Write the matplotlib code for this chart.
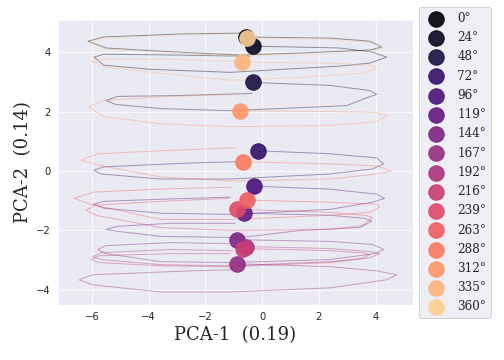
import numpy as np
import matplotlib
matplotlib.use("Agg")
import matplotlib.pyplot as plt
import seaborn as sns

# phase labels (degrees) and starting points of each trajectory
angles = [0, 24, 48, 72, 96, 119, 144, 167, 192, 216, 239, 263, 288, 312, 335, 360]
start_x = [-0.56, -0.32, -0.32, -0.14, -0.28, -0.63, -0.88, -0.88,
           -0.56, -0.67, -0.88, -0.53, -0.67, -0.77, -0.70, -0.53]
start_y = [4.51, 4.20, 2.98, 0.68, -0.51, -1.42, -2.31, -3.12,
           -2.54, -2.61, -1.29, -0.98, 0.31, 2.03, 3.66, 4.47]

# trajectory vertices (PCA-1, PCA-2)
traj_x = [
    [-0.56, 2.39, 3.79, 4.21, 3.79, 1.33, -0.77, -3.58, -5.51, -6.14, -5.58, -2.88, -0.77],
    [-0.32, 2.74, 3.89, 4.39, 3.79, 2.74, -1.12, -3.93, -5.58, -5.93, -5.58, -2.88, -0.42],
    [-0.32, 2.39, 3.79, 4.04, 3.61, 2.98, -1.12, -3.58, -5.16, -5.51, -5.09, -2.88, -0.35],
    [-0.14, 2.39, 4.04, 4.28, 3.89, 2.39, -1.12, -3.58, -5.68, -5.93, -5.58, -2.53, -0.95],
    [-0.28, 2.39, 4.04, 4.32, 3.89, 2.39, -1.12, -3.58, -5.58, -5.96, -5.58, -3.58, -1.12],
    [-0.63, 2.39, 3.61, 3.86, 3.44, 1.33, -0.77, -3.58, -5.09, -5.51, -5.09, -3.23, -0.95],
    [-0.88, 2.39, 3.89, 4.28, 3.96, 2.39, -1.12, -3.58, -5.51, -5.79, -5.51, -3.23, -1.19],
    [-0.88, 2.39, 4.04, 4.74, 4.39, 2.39, -1.12, -3.58, -5.96, -6.46, -5.96, -2.53, -0.95],
    [-0.56, 2.39, 3.79, 4.14, 3.79, 2.39, -1.12, -3.58, -5.68, -5.96, -5.68, -3.23, -1.05],
    [-0.67, 2.39, 3.51, 3.79, 3.51, 2.39, -1.12, -3.58, -5.75, -6.04, -5.75, -3.23, -1.12],
    [-0.88, 2.39, 3.61, 3.89, 3.54, 2.39, -1.12, -3.58, -5.86, -6.21, -5.86, -3.58, -1.19],
    [-0.53, 2.39, 4.04, 4.14, 3.79, 2.39, -1.12, -3.58, -6.04, -6.63, -5.96, -3.58, -1.05],
    [-0.67, 2.39, 4.04, 4.56, 4.04, 2.39, -1.12, -3.58, -5.79, -6.39, -5.79, -3.58, -0.95],
    [-0.77, 2.39, 4.04, 4.39, 4.04, 2.39, -1.12, -3.58, -5.58, -6.11, -5.58, -3.23, -0.95],
    [-0.70, 2.39, 3.79, 4.04, 3.54, 1.33, -1.12, -3.58, -5.51, -6.04, -5.51, -3.23, -0.95],
    [-0.53, 2.39, 3.86, 4.25, 3.86, 1.33, -0.77, -3.58, -5.51, -6.11, -5.54, -2.88, -0.77],
]
traj_y = [
    [4.51, 4.47, 4.37, 4.17, 4.07, 3.97, 3.90, 4.03, 4.14, 4.37, 4.51, 4.61, 4.64],
    [4.20, 4.14, 4.00, 3.83, 3.63, 3.53, 3.32, 3.42, 3.56, 3.83, 3.93, 3.90, 3.86],
    [2.98, 2.88, 2.71, 2.58, 2.44, 2.20, 2.03, 2.10, 2.24, 2.37, 2.51, 2.54, 2.61],
    [0.68, 0.58, 0.44, 0.24, 0.07, -0.10, -0.27, -0.27, -0.10, 0.03, 0.14, 0.27, 0.31],
    [-0.51, -0.61, -0.78, -0.92, -1.05, -1.29, -1.46, -1.42, -1.25, -1.12, -1.02, -0.95, -0.88],
    [-1.42, -1.49, -1.59, -1.69, -1.90, -2.00, -2.24, -2.20, -2.03, -1.97, -1.86, -1.76, -1.76],
    [-2.31, -2.37, -2.47, -2.64, -2.78, -2.98, -3.08, -3.05, -2.78, -2.64, -2.51, -2.41, -2.44],
    [-3.12, -3.22, -3.36, -3.49, -3.66, -3.93, -4.07, -4.07, -3.83, -3.66, -3.49, -3.36, -3.32],
    [-2.54, -2.61, -2.71, -2.78, -2.92, -3.05, -3.19, -3.15, -2.98, -2.88, -2.75, -2.64, -2.68],
    [-2.61, -2.68, -2.75, -2.81, -2.95, -3.08, -3.22, -3.19, -3.08, -2.98, -2.85, -2.78, -2.78],
    [-1.29, -1.39, -1.49, -1.56, -1.83, -1.97, -2.00, -1.90, -1.49, -1.32, -1.15, -1.02, -0.92],
    [-0.98, -1.05, -1.12, -1.22, -1.39, -1.49, -1.63, -1.63, -1.12, -0.92, -0.71, -0.61, -0.54],
    [0.31, 0.24, 0.17, 0.00, -0.10, -0.27, -0.34, -0.20, 0.20, 0.37, 0.58, 0.68, 0.78],
    [2.03, 2.00, 1.97, 1.86, 1.66, 1.53, 1.49, 1.59, 1.83, 2.17, 2.37, 2.51, 2.58],
    [3.66, 3.63, 3.56, 3.46, 3.29, 3.15, 3.05, 3.29, 3.49, 3.69, 3.76, 3.76, 3.69],
    [4.47, 4.44, 4.31, 4.14, 4.03, 3.93, 3.86, 4.00, 4.10, 4.34, 4.47, 4.58, 4.61],
]

x_label = "PCA-1  (0.19)"
y_label = "PCA-2  (0.14)"

sns.set_style("darkgrid")

fig = plt.figure(figsize=(7, 5), dpi=72)
ax = fig.add_axes([0.115, 0.153, 0.704, 0.791])

colors = plt.cm.magma(np.linspace(0, 0.9, len(angles)))

for i, ang in enumerate(angles):
    ax.plot(traj_x[i], traj_y[i], color=colors[i], lw=1, alpha=0.4)
    ax.scatter(start_x[i], start_y[i], s=240, color=colors[i], alpha=0.9,
               label=f"{ang}°", zorder=3)

ax.set_xlabel(x_label, fontsize=18, family="DejaVu Serif")
ax.set_ylabel(y_label, fontsize=18, family="DejaVu Serif")
ax.set_xticks([-6, -4, -2, 0, 2, 4])
ax.set_yticks([-4, -2, 0, 2, 4])

ax.legend(loc="upper left", bbox_to_anchor=(1.017, 1.046), borderaxespad=0,
          labelspacing=0.52, prop={"family": "DejaVu Serif", "size": 12})

fig.savefig("out.png", dpi=72)
